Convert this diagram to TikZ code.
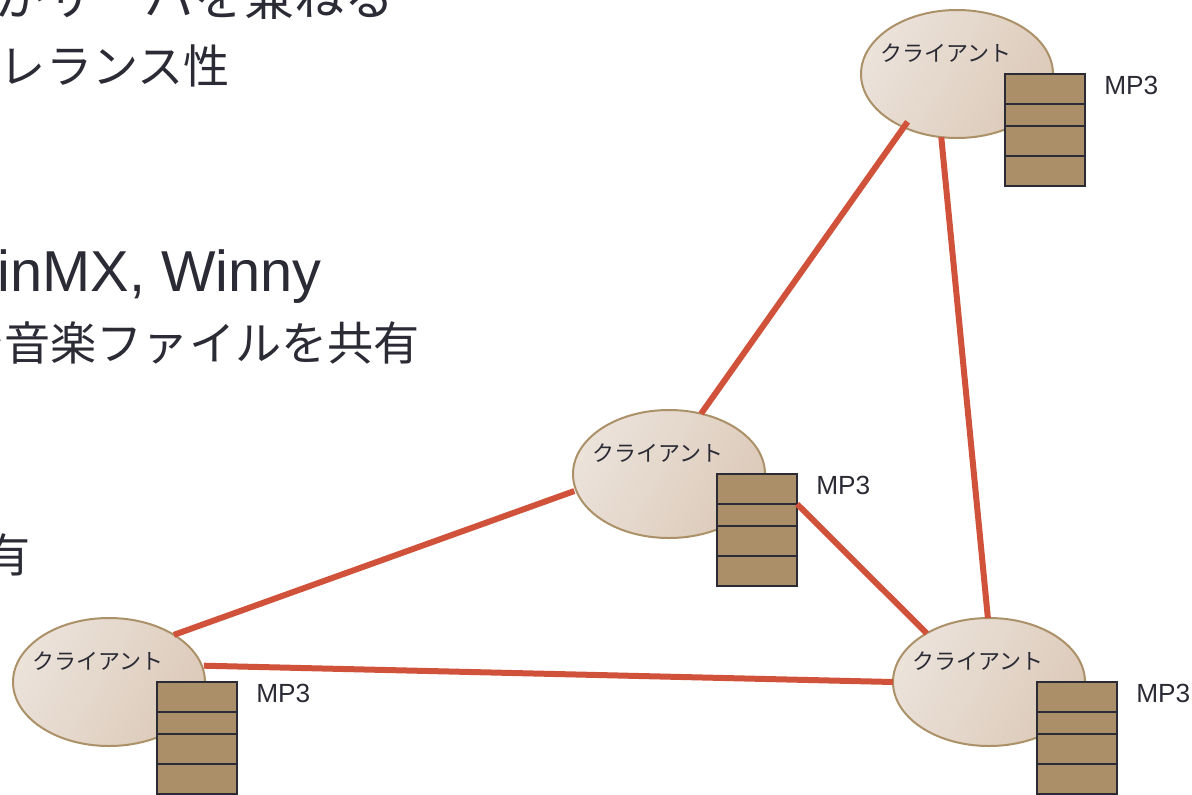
\documentclass[tikz,border=0pt]{standalone}
\usepackage{fontspec}
\setmainfont{Liberation Sans}
\newfontfamily\cjk{Noto Sans CJK JP}
\usetikzlibrary{shapes.geometric}
\definecolor{ink}{HTML}{2B2B36}
\definecolor{link}{HTML}{D0523B}
\definecolor{edge}{HTML}{AC9068}
\definecolor{box}{HTML}{AB8F68}
\definecolor{shadeA}{HTML}{EBE2DA}
\definecolor{shadeB}{HTML}{DCCAB9}
\tikzset{
  x=0.75pt,y=-0.75pt,
  client/.style={ellipse,draw=edge,line width=1.5pt,minimum width=144pt,minimum height=96pt,inner sep=0pt,outer sep=0pt,left color=shadeA,right color=shadeB,shading angle=60},
  row/.style={draw=ink,line width=1.5pt,fill=box,minimum width=60pt,inner sep=0pt,outer sep=0pt,anchor=north west},
  rowA/.style={row,minimum height=22.5pt},
  rowB/.style={row,minimum height=16.5pt},
  wire/.style={draw=link,line width=4.5pt},
  lab/.style={text=ink,anchor=west,inner sep=0pt,font=\fontsize{19.7}{19.7}\selectfont},
  clabel/.style={text=ink,anchor=west,inner sep=0pt,font=\cjk\fontsize{16.5}{16.5}\selectfont},
  bodyJ/.style={text=ink,anchor=base east,inner sep=0pt,font=\cjk\fontsize{34.6}{34.6}\selectfont},
  bodyK/.style={text=ink,anchor=base east,inner sep=0pt,font=\cjk\fontsize{37.5}{37.5}\selectfont},
  bodyL/.style={text=ink,anchor=base east,inner sep=0pt,font=\fontsize{43.3}{43.3}\selectfont}
}
\begin{document}
\begin{tikzpicture}
\useasboundingbox (0,0) rectangle (1192,794);
\clip (0,0) rectangle (1192,794);
% body text, cut by the page edge
\node[bodyK] (t1) at (395,15) {がサーバを兼ねる};
\node[bodyJ] (t2) at (230,83) {トレランス性};
\node[bodyL] (t3) at (322,291) {WinMX, Winny};
\node[bodyJ] (t4) at (420,360) {で音楽ファイルを共有};
\node[bodyJ] (t5) at (31,572) {有};
% clients
\node[client] (ct) at (957,74) {};
\node[client] (cm) at (669,474) {};
\node[client] (cl) at (109,682) {};
\node[client] (cr) at (989,682) {};
\foreach \n/\x/\y in {ct/1005/74,cm/717/474,cl/157/682,cr/1037/682}{
  \node[rowA] (\n1) at (\x,\y) {};
  \node[rowB] (\n2) at (\n1.south west) {};
  \node[rowA] (\n3) at (\n2.south west) {};
  \node[rowA] (\n4) at (\n3.south west) {};
  \node[lab] (\n m) at (\x+99,\y+11) {MP3};
  \node[clabel] (\n t) at (\x-125,\y-21) {クライアント};
}
% links
\draw[wire,shorten <=-5pt] (ct.225) -- (cm.62.7);
\draw[wire] (ct.256) -- (cr.91);
\draw[wire,shorten <=1.5pt] (cm.190) -- (cl.36.9);
\draw[wire] (cm2.north east) -- (cr.142.6);
\draw[wire,shorten <=1.5pt] (cl.10) -- (cr.180);
\end{tikzpicture}
\end{document}
